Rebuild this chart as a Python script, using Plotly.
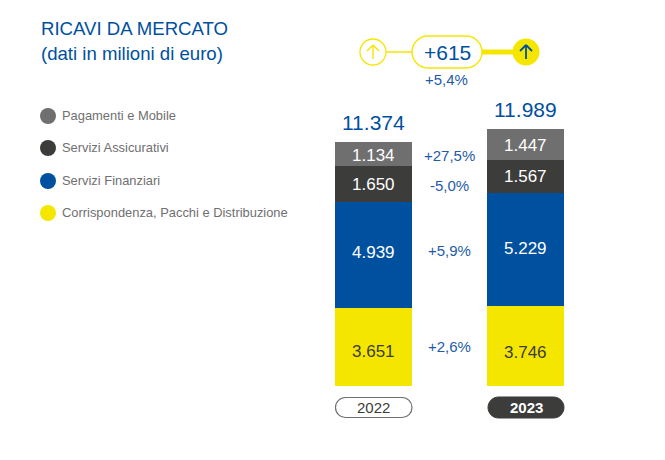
import plotly.graph_objects as go

W, H = 665, 460
FONT = "Liberation Sans"
YELLOW, BLUE, DARK, GRAY = "#F5E600", "#0050A0", "#3C3C3B", "#706F6F"
TEXTBLUE = "#1F5CA8"

years = ["2022", "2023"]
series_names = ["Corrispondenza, Pacchi e Distribuzione", "Servizi Finanziari",
                "Servizi Assicurativi", "Pagamenti e Mobile"]
corrispondenza = [3651, 3746]
finanziari = [4939, 5229]
assicurativi = [1650, 1567]
pagamenti = [1134, 1447]
totals = [11374, 11989]
variazioni = ["+2,6%", "+5,9%", "-5,0%", "+27,5%"]
delta_label = "+615"
delta_pct = "+5,4%"

series = [corrispondenza, finanziari, assicurativi, pagamenti]
colors = [YELLOW, BLUE, DARK, GRAY]
label_colors = [DARK, "white", "white", "white"]


def fmt(v):
    return f"{v:,}".replace(",", ".")


def px(x):
    return x / W


def py(y):
    return 1 - y / H


fig = go.Figure()
for name, vals, col in zip(series_names, series, colors):
    fig.add_bar(x=years, y=vals, name=name, marker=dict(color=col, line_width=0),
                showlegend=False, hoverinfo="skip")

ann = []
shapes = []


def text(x, y, s, size, color, anchor="center", bold=False):
    ann.append(dict(xref="paper", yref="paper", x=px(x), y=py(y), text=f"<b>{s}</b>" if bold else s,
                    showarrow=False, xanchor=anchor, yanchor="middle",
                    font=dict(family=FONT, size=size, color=color), borderpad=0, borderwidth=0))


def pill(x0, y0, x1, y1, fill, line, lw):
    r = (y1 - y0) / 2
    k = 0.5523 * r

    def P(x, y):
        return f"{px(x):.5f},{py(y):.5f}"
    path = (f"M{P(x0 + r, y0)} L{P(x1 - r, y0)} C{P(x1 - r + k, y0)} {P(x1, y0 + r - k)} {P(x1, y0 + r)} "
            f"C{P(x1, y0 + r + k)} {P(x1 - r + k, y1)} {P(x1 - r, y1)} L{P(x0 + r, y1)} "
            f"C{P(x0 + r - k, y1)} {P(x0, y0 + r + k)} {P(x0, y0 + r)} C{P(x0, y0 + r - k)} {P(x0 + r - k, y0)} {P(x0 + r, y0)} Z")
    shapes.append(dict(type="path", xref="paper", yref="paper", path=path, fillcolor=fill,
                       line=dict(color=line, width=lw), layer="above"))


def circle(cx, cy, r, fill, line="rgba(0,0,0,0)", lw=0):
    shapes.append(dict(type="circle", xref="paper", yref="paper", x0=px(cx - r), x1=px(cx + r),
                       y0=py(cy + r), y1=py(cy - r), fillcolor=fill, line=dict(color=line, width=lw)))


def seg(x0, y0, x1, y1, color, lw):
    shapes.append(dict(type="line", xref="paper", yref="paper", x0=px(x0), x1=px(x1), y0=py(y0), y1=py(y1),
                       line=dict(color=color, width=lw)))


def arrow(cx, cy, color, lw):
    seg(cx, cy - 7, cx, cy + 7, color, lw)
    seg(cx - 6, cy - 1, cx, cy - 7, color, lw)
    seg(cx + 6, cy - 1, cx, cy - 7, color, lw)


# title
text(41, 29, "RICAVI DA MERCATO", 18.6, BLUE, "left")
text(41, 54, "(dati in milioni di euro)", 18.6, BLUE, "left")

# legend
for name, col, y in zip(series_names[::-1], colors[::-1], [116, 148, 181, 213]):
    circle(48, y, 8, col)
    text(62, y - 0.5, name, 12.9, GRAY, "left")

# bar value labels, nudged as in the reference
nudges = [[-5, -7], [2, 1], [-1, 0], [-1, -1]]
for vals, col, nud, idx in zip(series, label_colors, nudges, range(4)):
    for i, v in enumerate(vals):
        base = sum(s[i] for s in series[:idx])
        ann.append(dict(xref="x", yref="y", x=i, y=base + v / 2, text=fmt(v), showarrow=False,
                        yshift=nud[i], font=dict(family=FONT, size=17, color=col)))

# totals
for i, t in enumerate(totals):
    ann.append(dict(xref="x", yref="y", x=i, y=t, text=fmt(t), showarrow=False, yanchor="bottom",
                    yshift=6, font=dict(family=FONT, size=21, color=BLUE)))

# percentage changes
for s, y in zip(variazioni, [346.5, 250.5, 185.5, 155.5]):
    text(449, y, s, 15, TEXTBLUE)

# delta widget
seg(386, 52, 412, 52, YELLOW, 1.5)
seg(482, 52, 514, 52, YELLOW, 5)
circle(373, 52, 13, "white", YELLOW, 1.3)
arrow(373, 52, YELLOW, 1.4)
circle(526, 52, 13.5, YELLOW)
arrow(526, 52, BLUE, 1.8)
pill(412, 36, 482, 68, "white", YELLOW, 1.4)
text(447, 52, delta_label, 21, BLUE)
text(446, 79, delta_pct, 15, TEXTBLUE)

# year pills
pill(335.5, 397.5, 412, 417.5, "white", GRAY, 1.2)
text(373.5, 407.5, years[0], 15, DARK)
pill(488, 397, 564, 418, DARK, DARK, 1)
text(526, 407.5, years[1], 15, "white", bold=True)

fig.update_layout(
    width=W, height=H, margin=dict(l=0, r=0, t=0, b=0),
    paper_bgcolor="white", plot_bgcolor="white", barmode="stack", bargap=1 - 77 / 152,
    showlegend=False, annotations=ann, shapes=shapes,
    xaxis=dict(domain=[297.5 / W, 601.5 / W], range=[-0.5, 1.5], type="category", visible=False, fixedrange=True),
    yaxis=dict(domain=[74 / H, 332 / H], range=[0, 12020], visible=False, fixedrange=True),
)
fig.write_html("out.html", config=dict(displayModeBar=False), post_script="document.body.style.margin='0';document.body.style.overflow='hidden';")
